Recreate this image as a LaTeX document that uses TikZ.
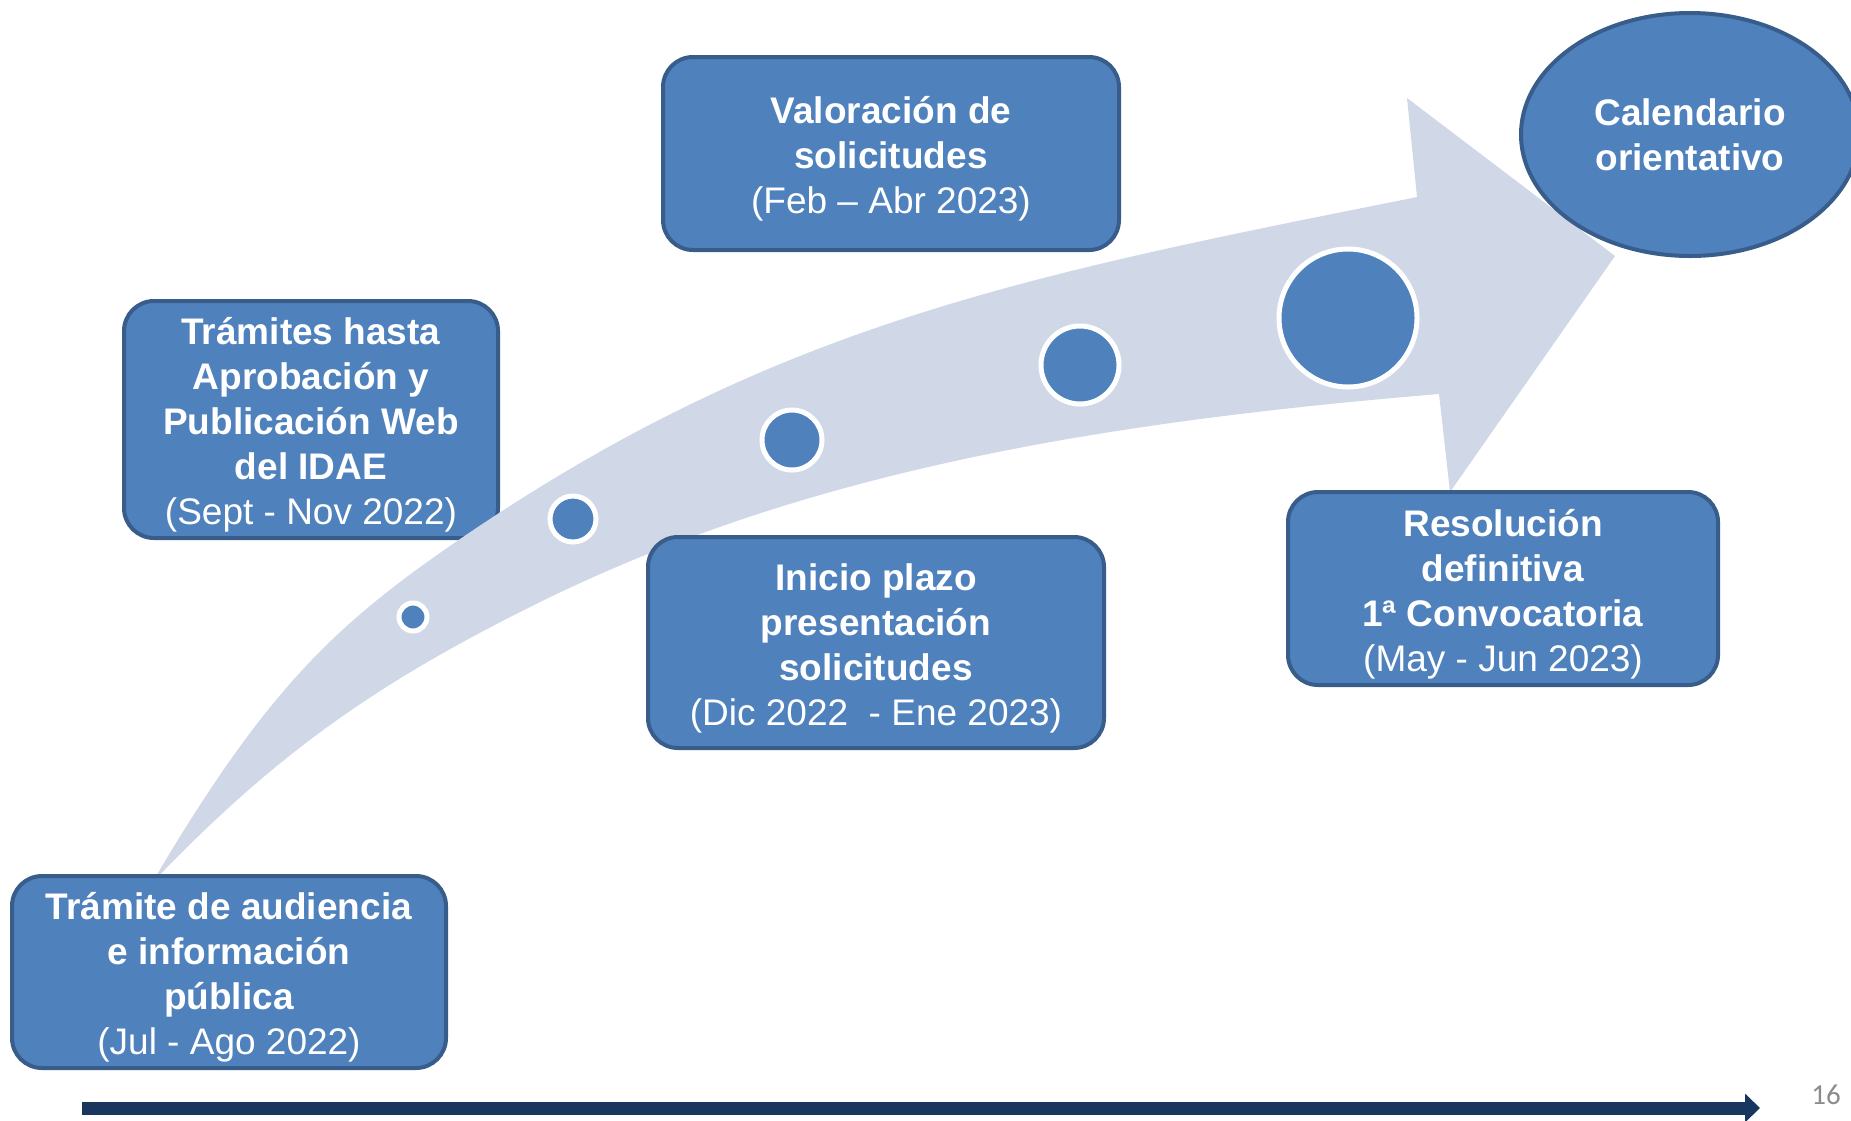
\documentclass[tikz,border=0pt]{standalone}
\usepackage{fontspec}
\setmainfont{Liberation Sans}
\newfontfamily\pagefont{Carlito}
\usetikzlibrary{arrows.meta,shapes.geometric}
\definecolor{boxfill}{HTML}{4F81BD}
\definecolor{boxline}{HTML}{385D8A}
\definecolor{arrowfill}{HTML}{D0D8E8}
\definecolor{navy}{HTML}{17375E}
\definecolor{pagegray}{HTML}{8C8C8C}
\newcommand\myhstrut{\rule{0pt}{38pt}}
\begin{document}
\begin{tikzpicture}[x=1pt,y=-1pt,
  stepbox/.style={rectangle, rounded corners=30pt, fill=boxfill, draw=boxline, line width=4pt,
    text=white, align=center, font=\fontsize{37}{45}\selectfont, inner sep=0pt},
  dot/.style={circle, fill=boxfill, draw=white, line width=5pt, inner sep=0pt},
  bigarrow/.style={fill=arrowfill, draw=none},
]
\useasboundingbox (0,0) rectangle (1851,1120);

% box behind the arrow
\node[stepbox, minimum width=374pt, minimum height=237pt] (b2) at (311,419.5)
  {\myhstrut\textbf{Trámites hasta}\\\textbf{Aprobación y}\\\textbf{Publicación Web}\\\textbf{del IDAE}\\(Sept - Nov 2022)};

% curved arrow
\path[bigarrow] (152,883) .. controls (268.6,684.7) and (339,621.7) .. (463,537)
  .. controls (777,323.4) and (1024.6,275.4) .. (1417,197)
  -- (1407,98) -- (1615,256) -- (1450,492) -- (1439,394)
  .. controls (1091,423) and (798,473) .. (530,607)
  .. controls (378,683) and (276.2,752.7) .. (152,883) -- cycle;

% dots
\node[dot, minimum size=28pt] (d1) at (413,617) {};
\node[dot, minimum size=46pt] (d2) at (573,519) {};
\node[dot, minimum size=60pt] (d3) at (792,440) {};
\node[dot, minimum size=78pt] (d4) at (1080,365) {};
\node[dot, minimum size=138pt] (d5) at (1348,318) {};

% boxes
\node[stepbox, minimum width=434pt, minimum height=192pt] (b1) at (229,972)
  {\myhstrut\textbf{Trámite de audiencia}\\\textbf{e información}\\\textbf{pública}\\(Jul - Ago 2022)};
\node[stepbox, minimum width=456pt, minimum height=193pt] (b3) at (891,153.5)
  {\myhstrut\textbf{Valoración de}\\\textbf{solicitudes}\\(Feb – Abr 2023)};
\node[stepbox, minimum width=456pt, minimum height=211pt] (b4) at (876,642.5)
  {\myhstrut\textbf{Inicio plazo}\\\textbf{presentación}\\\textbf{solicitudes}\\(Dic 2022\ \ - Ene 2023)};
\node[stepbox, minimum width=430pt, minimum height=193pt] (b5) at (1503,588.5)
  {\myhstrut\textbf{Resolución}\\\textbf{definitiva}\\\textbf{1ª Convocatoria}\\(May - Jun 2023)};

% ellipse
\node[ellipse, fill=boxfill, draw=boxline, line width=4pt, text=white, align=center,
  font=\fontsize{37}{45}\selectfont\bfseries, minimum width=338pt, minimum height=243pt, inner sep=0pt]
  (cal) at (1690,134.5) {Calendario\\orientativo};

% bottom timeline arrow
\coordinate (tstart) at (82,1108);
\coordinate (tend) at (1760,1108);
\draw[navy, line width=13pt, -{Triangle[length=15pt,width=28pt]}] (tstart) -- (tend);

% page number
\node[text=pagegray, font=\pagefont\fontsize{29}{32}\selectfont, inner sep=0pt] (pg) at (1826,1095) {16};
\end{tikzpicture}
\end{document}
